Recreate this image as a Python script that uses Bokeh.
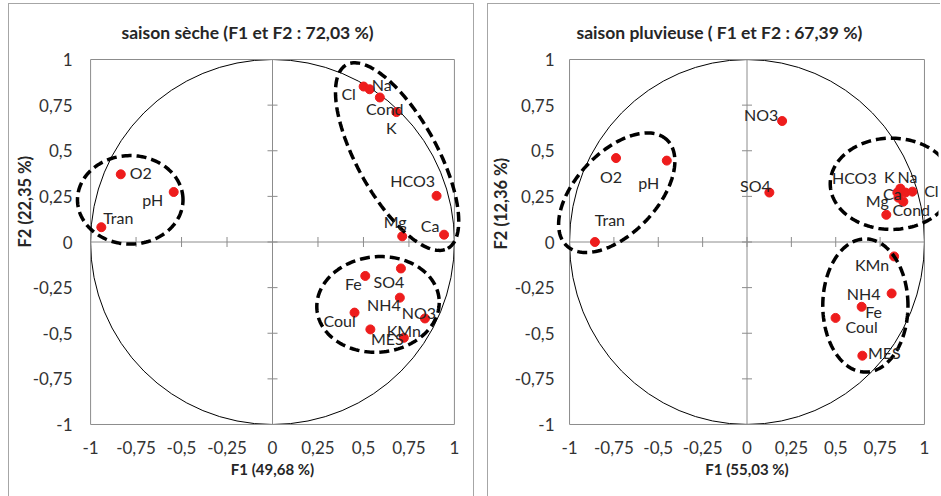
import numpy as np
from bokeh.plotting import figure
from bokeh.models import (ColumnDataSource, LabelSet, PolyAnnotation, BoxAnnotation, Title,
                          FixedTicker, CustomJSTickFormatter, Range1d, Spacer)
from bokeh.layouts import row, column
from bokeh.embed import file_html
from bokeh.resources import INLINE
from bokeh.core.properties import value

# ---------------- data ----------------
ticks = [-1, -0.75, -0.5, -0.25, 0, 0.25, 0.5, 0.75, 1]
tick_labels = ["-1", "-0,75", "-0,5", "-0,25", "0", "0,25", "0,5", "0,75", "1"]

dry_title = "saison sèche (F1 et F2 : 72,03 %)"
dry_xlabel = "F1 (49,68 %)"
dry_ylabel = "F2 (22,35 %)"
dry_vars = ["Cl", "Na", "Cond", "K", "HCO3", "Mg", "Ca",
            "Fe", "SO4", "NH4", "NO3", "Coul", "MES", "KMn",
            "O2", "pH", "Tran"]
dry_f1 = [0.501, 0.534, 0.590, 0.681, 0.902, 0.713, 0.943,
          0.510, 0.706, 0.700, 0.838, 0.451, 0.538, 0.722,
          -0.834, -0.543, -0.941]
dry_f2 = [0.852, 0.837, 0.792, 0.712, 0.253, 0.031, 0.040,
          -0.186, -0.145, -0.305, -0.419, -0.387, -0.479, -0.525,
          0.371, 0.274, 0.081]

wet_title = "saison pluvieuse ( F1 et F2 : 67,39 %)"
wet_xlabel = "F1 (55,03 %)"
wet_ylabel = "F2 (12,36 %)"
wet_vars = ["NO3", "O2", "pH", "SO4", "Tran",
            "K", "Na", "Cl", "HCO3", "Ca", "Cond", "Mg",
            "KMn", "NH4", "Fe", "Coul", "MES"]
wet_f1 = [0.198, -0.738, -0.452, 0.126, -0.857,
          0.864, 0.893, 0.932, 0.847, 0.853, 0.881, 0.785,
          0.829, 0.815, 0.646, 0.499, 0.650]
wet_f2 = [0.663, 0.460, 0.446, 0.271, 0.000,
          0.293, 0.271, 0.276, 0.271, 0.243, 0.221, 0.149,
          -0.079, -0.282, -0.355, -0.416, -0.623]

# ---------------- layout / style (not data) ----------------
# label offsets in screen pixels: (right, down)
dry_label_offsets = {
    "Cl": (-15, 7), "Na": (12, -5), "Cond": (5, 11), "K": (-5, 15),
    "HCO3": (-24, -15), "Mg": (-7, -15), "Ca": (-14, -9),
    "Fe": (-12, 8), "SO4": (-12, 13), "NH4": (-16, 7), "NO3": (-6, -6),
    "Coul": (-15, 8), "MES": (17, 9), "KMn": (0, -7),
    "O2": (20, -2), "pH": (-21, 8), "Tran": (17, -10),
}
wet_label_offsets = {
    "NO3": (-21, -7), "O2": (-5, 18), "pH": (-18, 22), "SO4": (-14, -7),
    "Tran": (15, -23),
    "K": (-11, -12), "Na": (2, -16), "Cl": (19, -1), "HCO3": (-43, -15),
    "Ca": (-6, -4), "Cond": (8, 8), "Mg": (-9, -14),
    "KMn": (-22, 8), "NH4": (-28, 0), "Fe": (12, 5), "Coul": (26, 9),
    "MES": (22, -3),
}
# dashed group ellipses: (cx, cy, width, height, angle_deg) in axis units
dry_groups = [(-0.782, 0.231, 0.58, 0.485, 0),
              (0.685, 0.468, 1.15, 0.44, -61),
              (0.58, -0.342, 0.674, 0.523, 5)]
wet_groups = [(-0.734, 0.27, 0.81, 0.45, 45),
              (0.814, 0.319, 0.69, 0.50, 0),
              (0.667, -0.348, 0.48, 0.73, 0)]

FONT = "Lato"
GRAY = "#8c8c8c"
TXT = "#333333"
DARK = "#262626"
RED = "#ee1c1c"
PLOT_H = 363          # pixel height of the -1..1 square
EXT_Y = 2             # px of room above/below the plot box


def ellipse_xy(cx, cy, w, h, ang_deg, n=160):
    t = np.linspace(0, 2 * np.pi, n)
    a = np.deg2rad(ang_deg)
    x = cx + (w / 2) * np.cos(t) * np.cos(a) - (h / 2) * np.sin(t) * np.sin(a)
    y = cy + (w / 2) * np.cos(t) * np.sin(a) + (h / 2) * np.sin(t) * np.cos(a)
    return list(x), list(y)


def make_panel(title, xlabel, ylabel, names, f1, f2, offsets, groups,
               box_w, ext_x, mb_left, mb_right, title_dx, ystandoff,
               ylab_standoff, ylab_offset, styles):
    lo, hi = ticks[0], ticks[-1]
    half = (hi - lo) / 2
    xr = half * ext_x / (box_w / 2)
    yr = half * EXT_Y / (PLOT_H / 2)
    p = figure(frame_width=box_w + 2 * ext_x, frame_height=PLOT_H + 2 * EXT_Y,
               x_range=Range1d(lo - xr, hi + xr), y_range=Range1d(lo - yr, hi + yr),
               output_backend="svg", toolbar_location=None,
               min_border_left=mb_left, min_border_right=mb_right,
               min_border_top=51, min_border_bottom=72,
               background_fill_color="white", border_fill_color="white")
    p.styles = styles
    p.outline_line_color = None
    p.grid.visible = False

    p.title.text = title
    p.title.align = "left"
    p.title.offset = title_dx
    p.title.standoff = 30
    p.title.text_font = FONT
    p.title.text_font_size = "17.5px"
    p.title.text_font_style = "bold"
    p.title.text_color = DARK

    fmt = CustomJSTickFormatter(args=dict(tv=ticks, tl=tick_labels), code="""
        const i = tv.indexOf(tick);
        return i >= 0 ? tl[i] : String(tick).replace('.', ',');
    """)
    for ax in (p.xaxis[0], p.yaxis[0]):
        ax.ticker = FixedTicker(ticks=ticks)
        ax.formatter = fmt
        ax.axis_line_color = None
        ax.major_tick_line_color = None
        ax.minor_tick_line_color = None
        ax.major_tick_in = 0
        ax.major_tick_out = 0
        ax.major_label_text_font = FONT
        ax.major_label_text_font_size = "17px"
        ax.major_label_text_color = TXT
    p.xaxis.major_label_standoff = 14
    p.yaxis.major_label_standoff = ystandoff
    p.xaxis.axis_label = xlabel
    p.xaxis.axis_label_standoff = 3
    p.xaxis.axis_label_text_font = FONT
    p.xaxis.axis_label_text_font_size = "15px"
    p.xaxis.axis_label_text_font_style = "bold"
    p.xaxis.axis_label_text_color = DARK

    # vertical axis title, shifted up as in the original
    p.add_layout(Title(text=ylabel, align="left", offset=ylab_offset,
                       standoff=ylab_standoff,
                       text_font=FONT, text_font_size="16.5px", text_font_style="bold",
                       text_color=DARK), "left")

    # plot-area box
    p.add_layout(BoxAnnotation(left=lo, right=hi, bottom=lo, top=hi,
                               fill_color=None, fill_alpha=0,
                               line_color=GRAY, line_alpha=1, line_width=1))
    # central axes crossing at 0 with cross tick marks
    p.segment(x0=[lo, 0], y0=[0, lo], x1=[hi, 0], y1=[0, hi],
              line_color=GRAY, line_width=1)
    zeros = [0] * len(ticks)
    p.scatter(x=ticks, y=zeros, marker="dash", size=10, angle=np.pi / 2,
              line_color=GRAY, line_width=1)
    p.scatter(x=zeros, y=ticks, marker="dash", size=10,
              line_color=GRAY, line_width=1)

    # correlation circle
    p.ellipse(x=[0], y=[0], width=[2 * half], height=[2 * half], fill_color=None,
              line_color="black", line_width=1)

    # dashed group ellipses
    for g in groups:
        xs, ys = ellipse_xy(*g)
        p.add_layout(PolyAnnotation(xs=xs, ys=ys, xs_units="data", ys_units="data",
                                    line_color="black", line_alpha=1.0, line_width=3.5,
                                    line_dash="10 5", fill_color=None, fill_alpha=0))

    src = ColumnDataSource(dict(
        x=f1, y=f2, name=names,
        dx=[offsets[n][0] for n in names],
        dy=[-offsets[n][1] for n in names]))
    p.scatter("x", "y", source=src, size=9, fill_color=RED, line_color=RED)
    p.add_layout(LabelSet(x="x", y="y", text="name", x_offset="dx", y_offset="dy",
                          source=src, text_align="center", text_baseline="middle",
                          text_font=value(FONT), text_font_size=value("16px"),
                          text_color=DARK))
    return p


border = "1px solid #a6a6a6"
p1 = make_panel(dry_title, dry_xlabel, dry_ylabel, dry_vars, dry_f1, dry_f2,
                dry_label_offsets, dry_groups, 362, 16, 65, 5, 47, 2, -10, 179,
                {"border": border})
p2 = make_panel(wet_title, wet_xlabel, wet_ylabel, wet_vars, wet_f1, wet_f2,
                wet_label_offsets, wet_groups, 354, 14, 66, 3, 21, 1, 1, 177,
                {"border-left": border, "border-top": border, "border-bottom": border})

layout = column(Spacer(height=3),
                row(Spacer(width=8), p1, Spacer(width=13), p2))
open("out.html", "w").write(file_html(layout, INLINE))
